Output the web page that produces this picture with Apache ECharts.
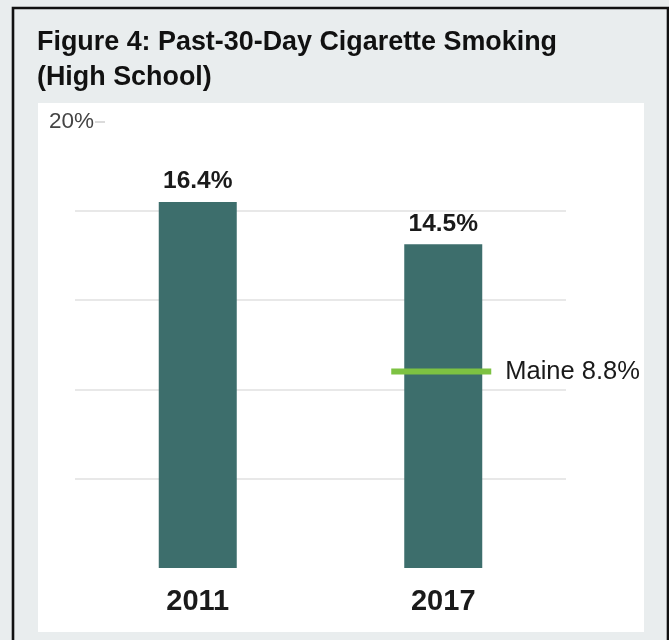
<!DOCTYPE html>
<html>
<head>
<meta charset="utf-8">
<script src="https://cdn.jsdelivr.net/npm/echarts@6/dist/echarts.min.js"></script>
<style>
html,body{margin:0;padding:0;background:#e9edee;}
#c{width:669px;height:640px;}
</style>
</head>
<body>
<div id="c"></div>
<script>
const titleText = 'Figure 4: Past-30-Day Cigarette Smoking\n(High School)';
const categories = ['2011', '2017'];
const smokingValues = [16.4, 14.5];
const maineCategory = '2017';
const maineValue = 8.8;
const maineLabel = 'Maine';
const yMax = 20;
const yInterval = 4;

const chart = echarts.init(document.getElementById('c'));
const FONT = '"Liberation Sans", Arial, Helvetica, sans-serif';

chart.setOption({
  backgroundColor: '#e9edee',
  animation: false,
  textStyle: { fontFamily: FONT },
  graphic: [
    { type: 'rect', z: -10, shape: { x: 13, y: 8, width: 655, height: 700 },
      style: { fill: '#e9edee', stroke: '#111', lineWidth: 2.6 } },
    { type: 'rect', z: -9, shape: { x: 38, y: 103, width: 606, height: 529 },
      style: { fill: '#ffffff' } }
  ],
  title: {
    text: titleText,
    left: 37, top: 25.5, padding: 0,
    textStyle: { fontFamily: FONT, fontSize: 26.9, fontWeight: 'bold', color: '#111', lineHeight: 34.5 }
  },
  grid: { left: 75, right: 103, top: 121.6, bottom: 72, containLabel: false },
  xAxis: {
    type: 'category',
    data: categories,
    axisLine: { show: false },
    axisTick: { show: false },
    axisLabel: { fontFamily: FONT, fontSize: 29, fontWeight: 'bold', color: '#1a1a1a', margin: 19 }
  },
  yAxis: [
    {
      type: 'value',
      min: 0, max: yMax, interval: yInterval,
      axisLine: { show: false },
      axisTick: { show: false },
      axisLabel: { show: false },
      splitLine: { show: true, showMinLine: false, showMaxLine: false,
        lineStyle: { color: '#e0e0e0', width: 1.5 } }
    },
    {
      type: 'value',
      position: 'left',
      min: 0, max: yMax, interval: yInterval,
      offset: -20,
      axisLine: { show: false },
      axisTick: { show: true, inside: true, length: 10, customValues: [yMax],
        lineStyle: { color: '#cfcfcf', width: 1.5 } },
      axisLabel: { fontFamily: FONT, fontSize: 22.5, color: '#444', margin: 1,
        customValues: [yMax],
        formatter: v => v === yMax ? v + '%' : '' },
      splitLine: { show: false }
    }
  ],
  series: [
    {
      type: 'bar',
      yAxisIndex: 0,
      data: smokingValues,
      barWidth: 78,
      itemStyle: { color: '#3d6e6c' },
      label: { show: true, position: 'top', distance: 8,
        fontFamily: FONT, fontSize: 24.5, fontWeight: 'bold', color: '#1a1a1a',
        formatter: p => p.value.toFixed(1) + '%' },
      z: 2
    },
    {
      type: 'scatter',
      yAxisIndex: 0,
      data: [[maineCategory, maineValue]],
      symbol: 'rect',
      symbolSize: [100, 6],
      symbolOffset: [-2, 0],
      itemStyle: { color: '#7dc242', opacity: 1 },
      label: { show: true, position: 'right', distance: 14,
        fontFamily: FONT, fontSize: 25.5, color: '#1a1a1a',
        formatter: p => maineLabel + ' ' + p.value[1].toFixed(1) + '%' },
      z: 3
    }
  ]
});
</script>
</body>
</html>
